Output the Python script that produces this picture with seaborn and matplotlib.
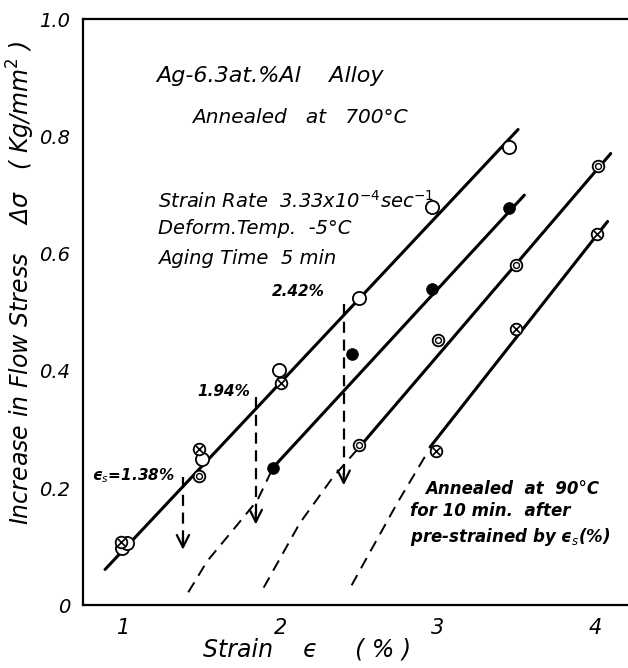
import matplotlib
matplotlib.use("Agg")
import matplotlib.pyplot as plt
import seaborn as sns

# open circles (upper line)
open_x = [0.99, 1.02, 1.50, 1.99, 2.50, 2.96, 3.45]
open_y = [0.097, 0.106, 0.249, 0.401, 0.524, 0.680, 0.782]
# filled circles (eps_s = 1.38 %)
filled_x = [1.95, 2.45, 2.96, 3.45]
filled_y = [0.235, 0.428, 0.539, 0.678]
# dotted circles (eps_s = 1.94 %)
dot_x = [1.48, 2.50, 3.00, 3.50, 4.02]
dot_y = [0.220, 0.273, 0.452, 0.581, 0.750]
# crossed circles (eps_s = 2.42 %)
cross_x = [0.98, 1.48, 2.00, 2.99, 3.50, 4.01]
cross_y = [0.108, 0.266, 0.379, 0.263, 0.472, 0.633]

# solid fitted lines (start / end)
solid_lines = {
    "as annealed": ([0.88, 3.51], [0.061, 0.812]),
    "1.38": ([1.95, 3.55], [0.235, 0.700]),
    "1.94": ([2.50, 4.10], [0.270, 0.771]),
    "2.42": ([2.95, 4.08], [0.270, 0.655]),
}
# dashed lower parts
dashed_lines = {
    "1.38": ([1.41, 1.53, 1.70, 1.85, 1.95], [0.022, 0.075, 0.130, 0.179, 0.235]),
    "1.94": ([1.89, 2.12, 2.33, 2.50], [0.030, 0.140, 0.218, 0.270]),
    "2.42": ([2.45, 2.58, 2.74, 2.94], [0.034, 0.097, 0.174, 0.264]),
}
# pre-strain arrows
arrow_x = [1.376, 1.84, 2.40]
arrow_top = [0.218, 0.355, 0.515]
arrow_tip = [0.090, 0.133, 0.200]

sns.set_theme(style="white")
plt.rcParams["font.family"] = ["DejaVu Sans"]
plt.rcParams["mathtext.fontset"] = "dejavusans"
plt.rcParams["mathtext.default"] = "it"
plt.rcParams["text.color"] = "black"

fig = plt.figure(figsize=(6.28, 6.68), dpi=100)
ax = fig.add_axes([0.132, 0.094, 0.868, 0.877])

for name, (xs, ys) in solid_lines.items():
    sns.lineplot(x=xs, y=ys, ax=ax, color="black", lw=2.2, sort=False, estimator=None)
for name, (xs, ys) in dashed_lines.items():
    sns.lineplot(x=xs, y=ys, ax=ax, color="black", lw=1.4, sort=False, estimator=None,
                 linestyle=(0, (6, 4)))

for x, top, tip in zip(arrow_x, arrow_top, arrow_tip):
    sns.lineplot(x=[x, x], y=[top, tip + 0.01], ax=ax, color="black", lw=1.6,
                 linestyle=(0, (5, 3)), sort=False, estimator=None)
    ax.annotate("", xy=(x, tip), xytext=(x, tip + 0.03),
                arrowprops=dict(arrowstyle="->", color="black", lw=1.6, mutation_scale=22))

sns.scatterplot(x=open_x, y=open_y, ax=ax, s=90, marker="o", facecolor="white",
                edgecolor="black", linewidth=1.3, zorder=5)
sns.scatterplot(x=filled_x, y=filled_y, ax=ax, s=70, marker="o", color="black",
                edgecolor="black", zorder=5)
sns.scatterplot(x=dot_x, y=dot_y, ax=ax, s=70, marker="o", facecolor="white",
                edgecolor="black", linewidth=1.3, zorder=5)
sns.scatterplot(x=dot_x, y=dot_y, ax=ax, s=18, marker="o", facecolor="white",
                edgecolor="black", linewidth=1.0, zorder=6)
sns.scatterplot(x=cross_x, y=cross_y, ax=ax, s=70, marker="o", facecolor="white",
                edgecolor="black", linewidth=1.3, zorder=5)
sns.scatterplot(x=cross_x, y=cross_y, ax=ax, s=25, marker="x", color="black",
                linewidth=1.2, zorder=6)

ax.set_xlim(0.739, 4.21)
ax.set_ylim(0, 1.0)
ax.set_xticks([1, 2, 3, 4])
ax.set_xticklabels(["1", "2", "3", "4"], fontsize=15, style="italic", color="black")
ax.set_yticks([0, 0.2, 0.4, 0.6, 0.8, 1.0])
ax.set_yticklabels(["0", "0.2", "0.4", "0.6", "0.8", "1.0"], fontsize=14,
                   style="italic", color="black")
ax.tick_params(direction="in", length=9, width=1.5, color="black", pad=9)
ax.tick_params(axis="x", pad=9)
for side in ["left", "bottom", "top"]:
    ax.spines[side].set_color("black")
    ax.spines[side].set_linewidth(1.6)
ax.spines["right"].set_visible(False)
ax.set_xlabel("")
ax.set_ylabel("")

txt = dict(style="italic", color="black", va="center", ha="left")
ax.text(1.204, 0.903, "Ag-6.3at.%Al    Alloy", fontsize=16, **txt)
ax.text(1.433, 0.833, "Annealed   at   700°C", fontsize=14.5, **txt)
ax.text(1.217, 0.690, "Strain Rate  3.33x10$^{-4}$sec$^{-1}$", fontsize=14, **txt)
ax.text(1.217, 0.643, "Deform.Temp.  -5°C", fontsize=14, **txt)
ax.text(1.217, 0.591, "Aging Time  5 min", fontsize=14, **txt)
ax.text(1.943, 0.535, "2.42%", fontsize=11, weight="bold", **txt)
ax.text(1.465, 0.365, "1.94%", fontsize=11, weight="bold", **txt)
ax.text(0.80, 0.222, "ϵ$_s$=1.38%", fontsize=11, weight="bold", **txt)
ax.text(2.917, 0.199, "Annealed  at  90°C", fontsize=12, weight="bold", **txt)
ax.text(2.82, 0.160, "for 10 min.  after", fontsize=12, weight="bold", **txt)
ax.text(2.82, 0.116, "pre-strained by ϵ$_s$(%)", fontsize=12, weight="bold", **txt)

fig.text(21 / 628, 0.576, "Increase in Flow Stress    Δσ   ( Kg/mm$^2$ )",
         rotation=90, fontsize=17, style="italic", ha="center", va="center", color="black")
fig.text(307 / 628, 1 - 650 / 668, "Strain    ϵ     ( % )",
         fontsize=17, style="italic", ha="center", va="center", color="black")

fig.savefig("out.png", dpi=100)
